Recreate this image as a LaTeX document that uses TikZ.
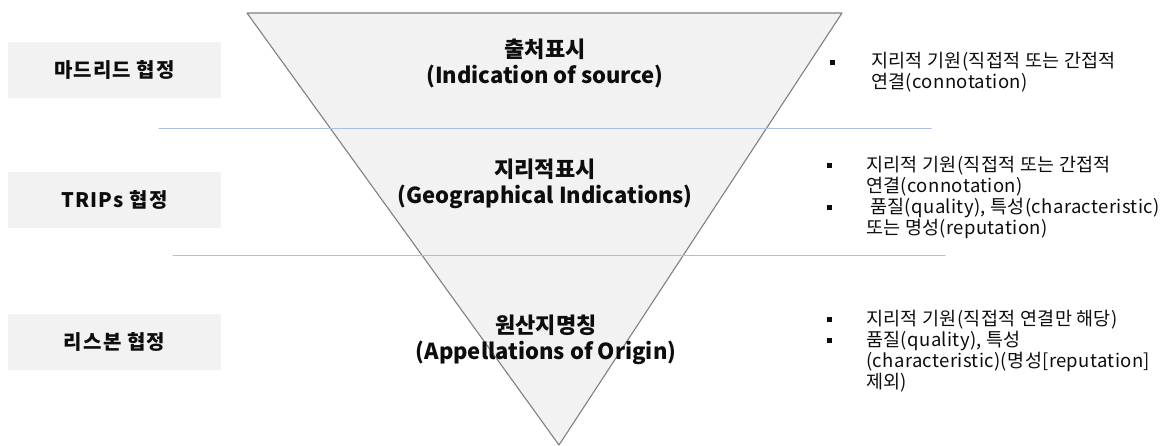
\documentclass[tikz,border=0pt]{standalone}
\usepackage{fontspec}
\setmainfont{Noto Sans CJK KR}
\usepackage{tikz}
\usetikzlibrary{arrows.meta}
\definecolor{boxgray}{HTML}{F2F2F2}
\definecolor{edgegray}{HTML}{808080}
\definecolor{rule}{HTML}{A9BFE6}
\definecolor{ink}{HTML}{0D0D0D}
\tikzset{
  every picture/.style={line join=round, line cap=round, >=Stealth},
  treaty/.style={fill=boxgray, minimum width=213pt, minimum height=56pt, text=ink, font=\fontsize{20}{22}\selectfont\bfseries\addfontfeature{LetterSpace=6}},
  level/.style={align=center, text=ink, font=\fontsize{22}{26}\selectfont\bfseries},
  notes/.style={anchor=west, inner sep=0pt, text=ink, font=\fontsize{18.5}{19}\selectfont\addfontfeature{LetterSpace=2}},
}
\newcommand{\bul}{\rule[3pt]{5pt}{5pt}}

\begin{document}
\begin{tikzpicture}[x=1pt,y=-1pt]
\useasboundingbox(0,0) rectangle (1165,446);
\draw[fill=boxgray,draw=edgegray,line width=1.1pt](247,13)--(842,13)--(559,445)--cycle;
\draw[rule,line width=1pt](159,129)--(931,129);
\draw[rule,line width=1pt](173,256)--(945,256);
% treaties
\node[treaty] (madrid) at (114.5,70) {마드리드 협정};
\node[treaty] (trips) at (114.5,200) {TRIPs 협정};
\node[treaty] (lisbon) at (114.5,342) {리스본 협정};
% levels
\node[level] (source) at (545,63) {출처표시\\(Indication of source)};
\node[level] (gi) at (545,184) {지리적표시\\(Geographical Indications)};
\node[level] (ao) at (546,340) {원산지명칭\\(Appellations of Origin)};
% notes
\node[notes] (srcnote) at (830,73.5) {\begin{tabular}{@{}p{41pt}@{}l@{}}
\bul & 지리적 기원(직접적 또는 간접적\\
 & 연결(connotation)
\end{tabular}};
\node[notes] (ginote) at (827,198) {\begin{tabular}{@{}p{39pt}@{}l@{}}
\bul & 지리적 기원(직접적 또는 간접적\\
 & 연결(connotation)\\
\bul & \hspace{4pt}품질(quality), 특성(characteristic)\\
 & 또는 명성(reputation)
\end{tabular}};
\node[notes] (aonote) at (827,352) {\begin{tabular}{@{}p{39pt}@{}l@{}}
\bul & 지리적 기원(직접적 연결만 해당)\\
\bul & 품질(quality), 특성\\
 & (characteristic)(명성[reputation]\\
 & 제외)
\end{tabular}};
\end{tikzpicture}
\end{document}
